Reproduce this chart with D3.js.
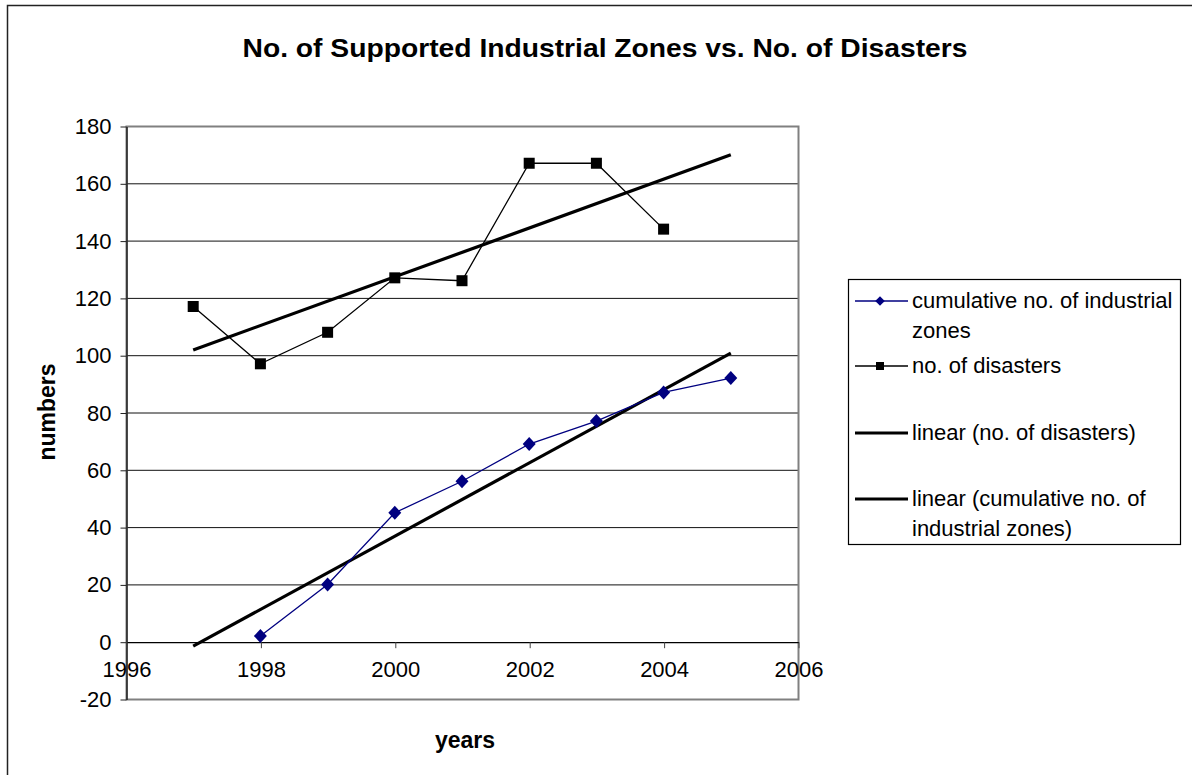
<!DOCTYPE html>
<html>
<head>
<meta charset="utf-8">
<script src="https://cdn.jsdelivr.net/npm/d3@7"></script>
<style>
  body { margin: 0; background: #fff; overflow: hidden; }
  text { font-family: "Liberation Sans", Arial, sans-serif; fill: #000; }
</style>
</head>
<body>
<div id="chart"></div>
<script>
// data
let zoneYears = [1998, 1999, 2000, 2001, 2002, 2003, 2004, 2005]
let zoneValues = [2, 20, 45, 56, 69, 77, 87, 92]
let disasterYears = [1997, 1998, 1999, 2000, 2001, 2002, 2003, 2004]
let disasterValues = [117, 97, 108, 127, 126, 167, 167, 144]
let xTicks = [1996, 1998, 2000, 2002, 2004, 2006]
let yTicks = [-20, 0, 20, 40, 60, 80, 100, 120, 140, 160, 180]

let width = 1192, height = 775
let font = '"Liberation Sans", Arial, sans-serif'

let svg = d3.select('#chart')
    .append('svg')
    .attr('width', width)
    .attr('height', height)

// outer chart frame (runs off right and bottom)
svg.append('rect')
    .attr('x', 7.5).attr('y', 5.5)
    .attr('width', width + 20).attr('height', height + 20)
    .attr('fill', 'none').attr('stroke', '#222').attr('stroke-width', 1.5)

let plotLeft = 126, plotRight = 798, plotTop = 126, plotBottom = 699

let xScale = d3.scaleLinear().domain([1996, 2006]).range([plotLeft, plotRight])
let yScale = d3.scaleLinear().domain([-20, 180]).range([plotBottom, plotTop])

// least squares trend, extended one period like the spreadsheet did
function trend(xs, ys) {
    let mx = d3.mean(xs), my = d3.mean(ys)
    let sxy = d3.sum(xs, (x, i) => (x - mx) * (ys[i] - my))
    let sxx = d3.sum(xs, x => (x - mx) * (x - mx))
    let b = sxy / sxx
    return x => my + b * (x - mx)
}
let disasterTrend = trend(disasterYears, disasterValues)
let zoneTrend = trend(zoneYears, zoneValues)

// gridlines
svg.append('g')
    .selectAll('line')
    .data(yTicks.filter(d => d !== 0 && d !== -20 && d !== 180))
    .enter().append('line')
    .attr('x1', plotLeft).attr('x2', plotRight)
    .attr('y1', d => yScale(d) + 0.5).attr('y2', d => yScale(d) + 0.5)
    .attr('stroke', '#111').attr('stroke-width', 1)

// plot border
svg.append('rect')
    .attr('x', plotLeft + 0.5).attr('y', plotTop + 0.5)
    .attr('width', plotRight - plotLeft).attr('height', plotBottom - plotTop)
    .attr('fill', 'none').attr('stroke', '#808080').attr('stroke-width', 2)

// y axis
let yAxis = d3.axisLeft(yScale).tickValues(yTicks).tickFormat(d => String(d))
    .tickSize(6).tickSizeOuter(0).tickPadding(9)
let gy = svg.append('g')
    .attr('transform', `translate(${plotLeft + 0.5},0.5)`)
    .call(yAxis)
gy.select('.domain').attr('stroke', '#222').attr('stroke-width', 1.5)
gy.selectAll('.tick line').attr('stroke', '#222')
gy.selectAll('text').style('font-size', '22px').style('font-family', font)

// x axis crossing at zero
let xAxis = d3.axisBottom(xScale).tickValues(xTicks).tickFormat(d => String(d))
    .tickSize(6).tickSizeOuter(0).tickPadding(13)
let gx = svg.append('g')
    .attr('transform', `translate(0.5,${yScale(0) + 0.5})`)
    .call(xAxis)
gx.select('.domain').attr('stroke', '#000').attr('stroke-width', 1.3)
gx.selectAll('.tick line').attr('stroke', '#444')
gx.selectAll('text').style('font-size', '22px').style('font-family', font)

// trend lines
let trendYears = [1997, 2005]
let line = d3.line().x(d => xScale(d[0])).y(d => yScale(d[1]))

svg.append('path')
    .datum(trendYears.map(x => [x, disasterTrend(x)]))
    .attr('d', line)
    .attr('fill', 'none').attr('stroke', '#000').attr('stroke-width', 3.2)

svg.append('path')
    .datum(trendYears.map(x => [x, zoneTrend(x)]))
    .attr('d', line)
    .attr('fill', 'none').attr('stroke', '#000').attr('stroke-width', 3.2)

// disasters series
svg.append('path')
    .datum(disasterYears.map((x, i) => [x, disasterValues[i]]))
    .attr('d', line)
    .attr('fill', 'none').attr('stroke', '#000').attr('stroke-width', 1.3)

svg.selectAll('.sq')
    .data(disasterYears)
    .enter().append('rect')
    .attr('class', 'sq')
    .attr('x', d => xScale(d) - 5.5)
    .attr('y', (d, i) => yScale(disasterValues[i]) - 5.5)
    .attr('width', 11).attr('height', 11)
    .attr('fill', '#000')

// zones series
svg.append('path')
    .datum(zoneYears.map((x, i) => [x, zoneValues[i]]))
    .attr('d', line)
    .attr('fill', 'none').attr('stroke', '#000080').attr('stroke-width', 1.3)

let diamond = d3.symbol().type(d3.symbolSquare).size(84)
svg.selectAll('.dm')
    .data(zoneYears)
    .enter().append('path')
    .attr('class', 'dm')
    .attr('d', diamond)
    .attr('transform', (d, i) => `translate(${xScale(d)},${yScale(zoneValues[i])}) scale(1,1.08) rotate(45)`)
    .attr('fill', '#000080')

// title and axis titles
svg.append('text')
    .attr('x', 605).attr('y', 57)
    .attr('text-anchor', 'middle')
    .attr('textLength', 725).attr('lengthAdjust', 'spacingAndGlyphs')
    .style('font-size', '25px').style('font-weight', 'bold')
    .text('No. of Supported Industrial Zones vs. No. of Disasters')

svg.append('text')
    .attr('x', 465).attr('y', 748)
    .attr('text-anchor', 'middle')
    .style('font-size', '23px').style('font-weight', 'bold')
    .text('years')

svg.append('text')
    .attr('transform', 'translate(55,412) rotate(-90)')
    .attr('text-anchor', 'middle')
    .style('font-size', '23px').style('font-weight', 'bold')
    .text('numbers')

// legend
let legend = svg.append('g')
legend.append('rect')
    .attr('x', 848.5).attr('y', 279.5)
    .attr('width', 332).attr('height', 265)
    .attr('fill', '#fff').attr('stroke', '#000').attr('stroke-width', 1.2)

let legendItems = [
    { lines: ['cumulative no. of industrial', 'zones'], y: 301, color: '#000080', width: 1.3, mark: 'diamond' },
    { lines: ['no. of disasters'], y: 366, color: '#000', width: 1.3, mark: 'square' },
    { lines: ['linear (no. of disasters)'], y: 433, color: '#000', width: 3, mark: null },
    { lines: ['linear (cumulative no. of', 'industrial zones)'], y: 499, color: '#000', width: 3, mark: null }
]

legendItems.forEach(item => {
    legend.append('line')
        .attr('x1', 855).attr('x2', 908)
        .attr('y1', item.y).attr('y2', item.y)
        .attr('stroke', item.color).attr('stroke-width', item.width)
    if (item.mark === 'diamond') {
        legend.append('path')
            .attr('d', d3.symbol().type(d3.symbolSquare).size(46))
            .attr('transform', `translate(880,${item.y}) rotate(45)`)
            .attr('fill', item.color)
    } else if (item.mark === 'square') {
        legend.append('rect')
            .attr('x', 876).attr('y', item.y - 4)
            .attr('width', 8).attr('height', 8)
            .attr('fill', '#000')
    }
    item.lines.forEach((t, k) => {
        legend.append('text')
            .attr('x', 912).attr('y', item.y + 7 + k * 30)
            .style('font-size', '22px')
            .text(t)
    })
})
</script>
</body>
</html>
